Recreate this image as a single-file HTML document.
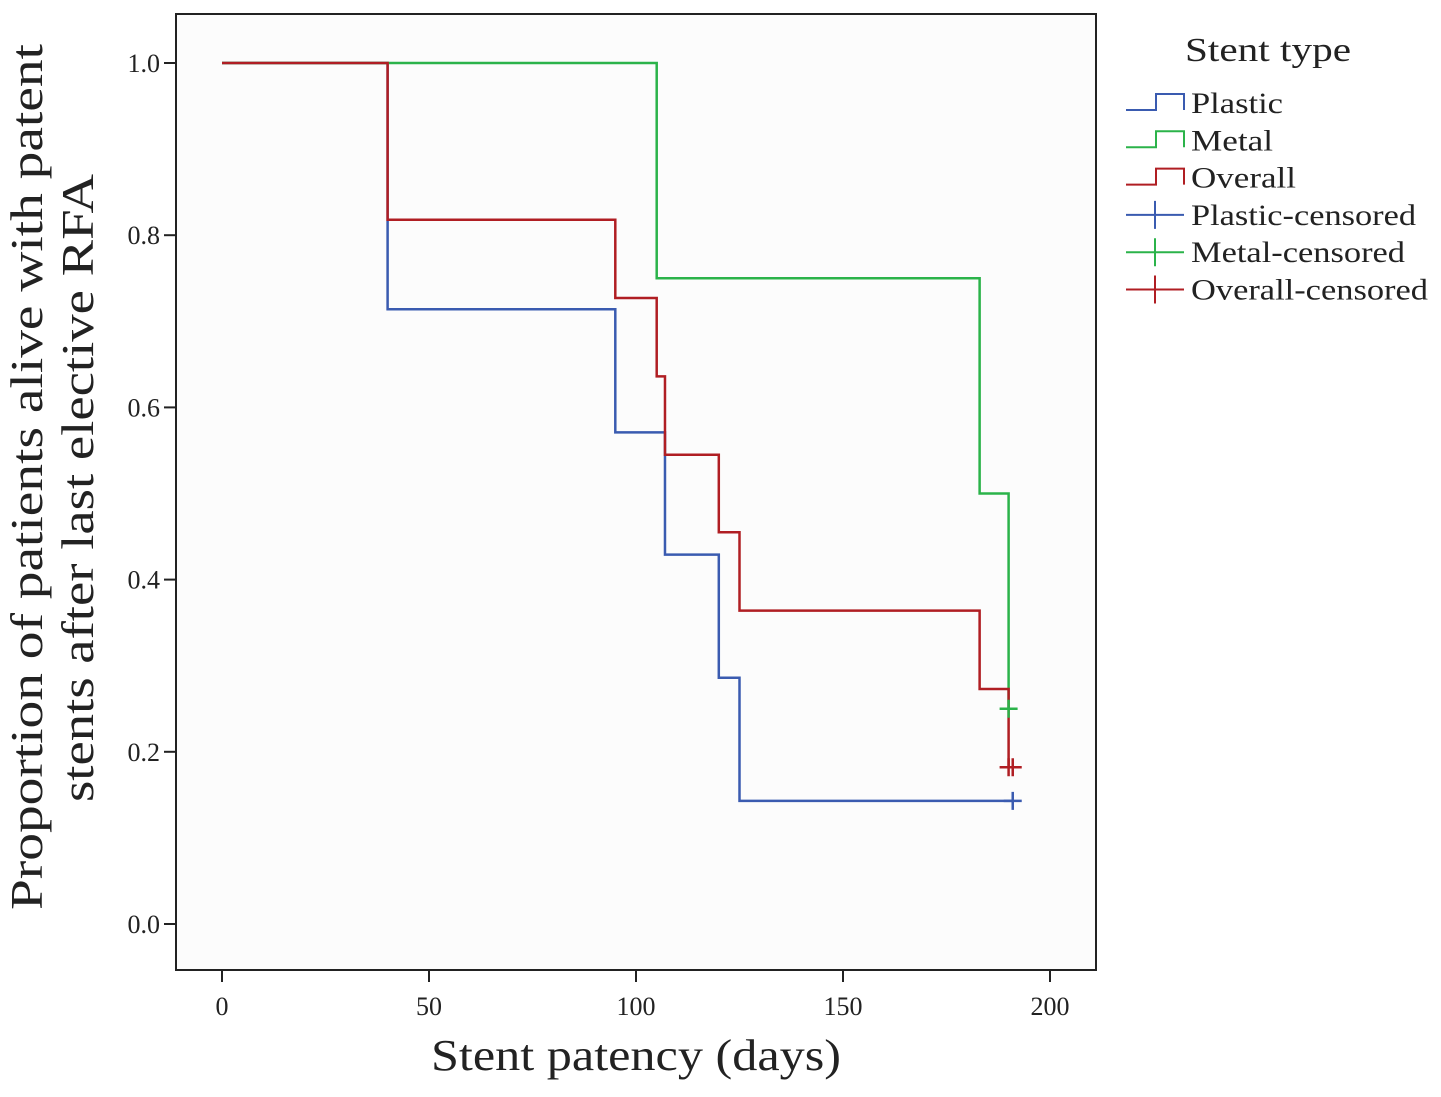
<!DOCTYPE html>
<html><head><meta charset="utf-8"><style>
body{margin:0;background:#fff;}
svg text{font-family:"Liberation Serif",serif;fill:#222;}
</style></head><body>
<svg id="chart" width="1441" height="1092" xmlns="http://www.w3.org/2000/svg">
<rect x="176" y="14" width="920" height="956" fill="#fcfcfc" stroke="#222" stroke-width="2"/>
<g id="axes"></g>
<g id="series"></g>
<text x="636" y="1070" font-size="44" text-anchor="middle" textLength="410" lengthAdjust="spacingAndGlyphs">Stent patency (days)</text>
<text transform="translate(42,477) rotate(-90)" font-size="46" text-anchor="middle" textLength="866" lengthAdjust="spacingAndGlyphs">Proportion of patients alive with patent</text>
<text transform="translate(93,488) rotate(-90)" font-size="46" text-anchor="middle" textLength="628" lengthAdjust="spacingAndGlyphs">stents after last elective RFA</text>
<g id="legend">
<text x="1268" y="61" font-size="34" text-anchor="middle" textLength="166" lengthAdjust="spacingAndGlyphs">Stent type</text>
</g>
</svg>
<script>
const xTicks=[0,50,100,150,200];
const yTicks=[0.0,0.2,0.4,0.6,0.8,1.0];
const yTickLabels=["0.0","0.2","0.4","0.6","0.8","1.0"];
const plasticT=[0,40,95,107,120,125,191];
const plasticS=[1.0,0.714,0.571,0.429,0.286,0.143,0.143];
const metalT=[0,105,183,190];
const metalS=[1.0,0.75,0.5,0.25];
const overallT=[0,40,95,105,107,120,125,183,190];
const overallS=[1.0,0.818,0.727,0.636,0.545,0.455,0.364,0.273,0.182];
const plasticCensT=[191],plasticCensS=[0.143];
const metalCensT=[190],metalCensS=[0.25];
const overallCensT=[190,191],overallCensS=[0.182,0.182];
const names=["Plastic","Metal","Overall"];
const colors=["#3a5bb0","#2bb34a","#b01e23"];
const NS="http://www.w3.org/2000/svg";
const X=d=>222+d*4.14, Y=v=>924-v*861;
function mk(t,a,p){const e=document.createElementNS(NS,t);for(const k in a)e.setAttribute(k,a[k]);p.appendChild(e);return e;}
const ax=document.getElementById('axes');
xTicks.forEach(t=>{const l=mk('line',{x1:X(t),x2:X(t),y1:970,y2:982,stroke:'#222','stroke-width':2},ax);

const tx=mk('text',{x:X(t),y:1015,'font-size':26,'text-anchor':'middle'},ax);tx.textContent=t;
});
yTicks.forEach((t,i)=>{const l=mk('line',{x1:164,x2:176,y1:Y(t),y2:Y(t),stroke:'#222','stroke-width':2},ax);

const tx=mk('text',{x:160,y:Y(t)+9,'font-size':26,'text-anchor':'end'},ax);tx.textContent=yTickLabels[i];
});
const sg=document.getElementById('series');
function step(T,S){let d='M'+X(T[0])+' '+Y(S[0]);for(let i=1;i<T.length;i++){d+=' H'+X(T[i])+' V'+Y(S[i]);}return d;}
const sets=[[plasticT,plasticS,plasticCensT,plasticCensS],[metalT,metalS,metalCensT,metalCensS],[overallT,overallS,overallCensT,overallCensS]];
sets.forEach((s,i)=>{const p=mk('path',{d:step(s[0],s[1]),fill:'none',stroke:colors[i],'stroke-width':2.5},sg);
});
sets.forEach((s,i)=>{s[2].forEach((t,j)=>{const g=mk('path',{d:`M${X(t)-9} ${Y(s[3][j])} h18 M${X(t)} ${Y(s[3][j])-9} v18`,stroke:colors[i],'stroke-width':2.5},sg);
});});
const lg=document.getElementById('legend');
const labels=["Plastic","Metal","Overall","Plastic-censored","Metal-censored","Overall-censored"];
const labelW=[92,82,105,225,214,237];
labels.forEach((lab,i)=>{const y=103+i*37.3;const c=colors[i%3];
let p;if(i<3)p=mk('path',{d:`M1126 ${y+7} h30 v-16 h28 v16`,fill:'none',stroke:c,'stroke-width':2},lg);
else p=mk('path',{d:`M1126 ${y} h58 M1155 ${y-14} v28`,stroke:c,'stroke-width':2},lg);

const tx=mk('text',{x:1191,y:y+10,'font-size':30,textLength:labelW[i],lengthAdjust:'spacingAndGlyphs'},lg);tx.textContent=lab;
});
</script>
</body></html>
